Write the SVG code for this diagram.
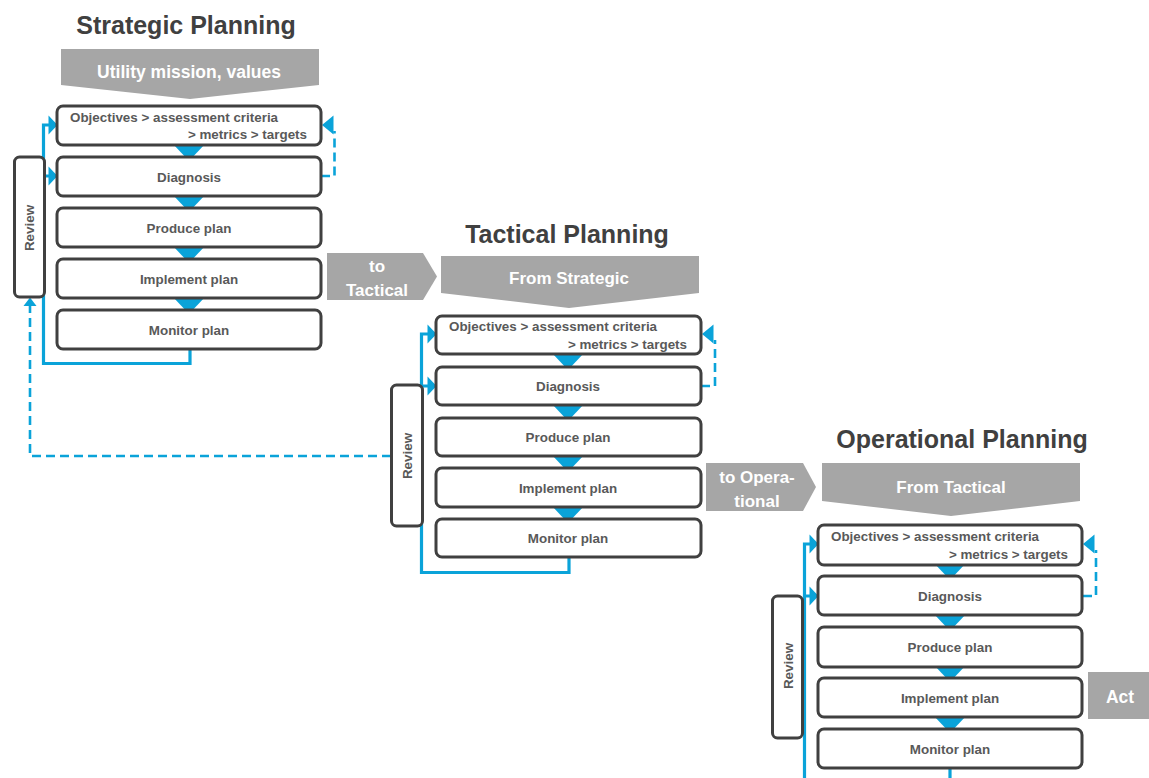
<svg xmlns="http://www.w3.org/2000/svg" width="1149" height="778" viewBox="0 0 1149 778">
<style>
.box{fill:#fff;stroke:#404040;stroke-width:3}
.bt{font-family:"Liberation Sans",Arial,sans-serif;font-weight:bold;font-size:13.4px;fill:#595959}
.mid{text-anchor:middle}
.title{font-family:"Liberation Sans",Arial,sans-serif;font-weight:bold;font-size:25px;fill:#404040;text-anchor:middle}
.gt{font-family:"Liberation Sans",Arial,sans-serif;font-weight:bold;font-size:17.5px;fill:#fff;text-anchor:middle}
.gray{fill:#A6A6A6}
.bl{fill:none;stroke:#0AA3D9;stroke-width:3.2}
.dash{fill:none;stroke:#0AA3D9;stroke-width:2.6;stroke-dasharray:9,5}
.bf{fill:#0AA3D9}
</style>
<rect width="1149" height="778" fill="#fff"/>
<g id="connectors">
  <!-- strategic -->
  <polygon class="bf" points="173,144 205,144 189,161"/>
  <polygon class="bf" points="173,195 205,195 189,212"/>
  <polygon class="bf" points="173,246 205,246 189,263"/>
  <polygon class="bf" points="173,297 205,297 189,314"/>
  <path class="bl" d="M190,349 V363.5 H43.5 V125 H50 M43.5,176 H50"/>
  <polygon class="bf" points="48.5,115.5 57.5,125 48.5,134.5"/>
  <polygon class="bf" points="48.5,166.5 57.5,176 48.5,185.5"/>
  <path class="dash" d="M321,176 H334.5 V131"/>
  <polygon class="bf" points="322,125 333.5,115.5 333.5,134.5"/>
  <path class="dash" d="M391,456 H30 V306"/>
  <polygon class="bf" points="30,297.5 23.5,306 36.5,306"/>
  <!-- tactical -->
  <polygon class="bf" points="552,353 584,353 568,370"/>
  <polygon class="bf" points="552,404 584,404 568,421"/>
  <polygon class="bf" points="552,455 584,455 568,472"/>
  <polygon class="bf" points="552,506 584,506 568,523"/>
  <path class="bl" d="M569,557 V572.5 H421.5 V334 H428 M421.5,386 H428"/>
  <polygon class="bf" points="427.5,324.5 436.5,334 427.5,343.5"/>
  <polygon class="bf" points="427.5,376.5 436.5,386 427.5,395.5"/>
  <path class="dash" d="M701,386 H715 V340"/>
  <polygon class="bf" points="702,334 713.5,324.5 713.5,343.5"/>
  <!-- operational -->
  <polygon class="bf" points="934,563 966,563 950,580"/>
  <polygon class="bf" points="934,614 966,614 950,631"/>
  <polygon class="bf" points="934,665 966,665 950,682"/>
  <polygon class="bf" points="934,716 966,716 950,733"/>
  <path class="bl" d="M804.5,778 V544 H810 M804.5,596 H810 M950,768 V778"/>
  <polygon class="bf" points="809.5,534.5 818.5,544 809.5,553.5"/>
  <polygon class="bf" points="809.5,586.5 818.5,596 809.5,605.5"/>
  <path class="dash" d="M1083,596 H1096 V550"/>
  <polygon class="bf" points="1083,544 1094.5,534.5 1094.5,553.5"/>
</g>
<g id="strategic">
  <text class="title" x="186" y="34">Strategic Planning</text>
  <g id="s-mission">
    <polygon class="gray" points="61,49 319,49 319,85 190,99 61,85"/>
    <text class="gt" x="189" y="78">Utility mission, values</text>
  </g>
  <g id="s-objectives"><rect class="box" x="57" y="106" width="264" height="39" rx="6"/>
    <text class="bt" x="70" y="122">Objectives &gt; assessment criteria</text>
    <text class="bt" x="307" y="139" text-anchor="end">&gt; metrics &gt; targets</text></g>
  <g id="s-diagnosis"><rect class="box" x="57" y="157" width="264" height="39" rx="6"/>
    <text class="bt mid" x="189" y="181.5">Diagnosis</text></g>
  <g id="s-produce"><rect class="box" x="57" y="208" width="264" height="39" rx="6"/>
    <text class="bt mid" x="189" y="232.5">Produce plan</text></g>
  <g id="s-implement"><rect class="box" x="57" y="259" width="264" height="39" rx="6"/>
    <text class="bt mid" x="189" y="283.5">Implement plan</text></g>
  <g id="s-monitor"><rect class="box" x="57" y="310" width="264" height="39" rx="6"/>
    <text class="bt mid" x="189" y="334.5">Monitor plan</text></g>
  <g id="s-review"><rect class="box" x="14.5" y="157" width="30" height="140" rx="5"/>
    <text class="bt mid" transform="translate(29.5,228) rotate(-90)" y="4.6">Review</text></g>
  <g id="to-tactical">
    <polygon class="gray" points="327,253 423,253 437,276.5 423,300 327,300"/>
    <text class="gt" x="377" y="272" style="font-size:17px">to</text>
    <text class="gt" x="377" y="296" style="font-size:17px">Tactical</text>
  </g>
</g>
<g id="tactical">
  <text class="title" x="567" y="243">Tactical Planning</text>
  <g id="t-from">
    <polygon class="gray" points="441,256 699,256 699,293 569,308 441,293"/>
    <text class="gt" x="569" y="284" style="font-size:17px">From Strategic</text>
  </g>
  <g id="t-objectives"><rect class="box" x="436" y="316" width="265" height="38" rx="6"/>
    <text class="bt" x="449" y="331">Objectives &gt; assessment criteria</text>
    <text class="bt" x="687" y="348.5" text-anchor="end">&gt; metrics &gt; targets</text></g>
  <g id="t-diagnosis"><rect class="box" x="436" y="367" width="265" height="38" rx="6"/>
    <text class="bt mid" x="568" y="391">Diagnosis</text></g>
  <g id="t-produce"><rect class="box" x="436" y="418" width="265" height="38" rx="6"/>
    <text class="bt mid" x="568" y="442">Produce plan</text></g>
  <g id="t-implement"><rect class="box" x="436" y="468" width="265" height="39" rx="6"/>
    <text class="bt mid" x="568" y="492.5">Implement plan</text></g>
  <g id="t-monitor"><rect class="box" x="436" y="519" width="265" height="38" rx="6"/>
    <text class="bt mid" x="568" y="543">Monitor plan</text></g>
  <g id="t-review"><rect class="box" x="391.5" y="385" width="31" height="141" rx="5"/>
    <text class="bt mid" transform="translate(407,456) rotate(-90)" y="4.6">Review</text></g>
  <g id="to-operational">
    <polygon class="gray" points="706,463 803,463 816,487 803,511 706,511"/>
    <text class="gt" x="757" y="483" style="font-size:17px">to Opera-</text>
    <text class="gt" x="757" y="507" style="font-size:17px">tional</text>
  </g>
</g>
<g id="operational">
  <text class="title" x="962" y="448">Operational Planning</text>
  <g id="o-from">
    <polygon class="gray" points="822,463 1080,463 1080,501 951,516 822,501"/>
    <text class="gt" x="951" y="493" style="font-size:17px">From Tactical</text>
  </g>
  <g id="o-objectives"><rect class="box" x="818" y="525" width="264" height="40" rx="6"/>
    <text class="bt" x="831" y="541">Objectives &gt; assessment criteria</text>
    <text class="bt" x="1068" y="559" text-anchor="end">&gt; metrics &gt; targets</text></g>
  <g id="o-diagnosis"><rect class="box" x="818" y="576" width="264" height="39" rx="6"/>
    <text class="bt mid" x="950" y="600.5">Diagnosis</text></g>
  <g id="o-produce"><rect class="box" x="818" y="627" width="264" height="40" rx="6"/>
    <text class="bt mid" x="950" y="652">Produce plan</text></g>
  <g id="o-implement"><rect class="box" x="818" y="678" width="264" height="39" rx="6"/>
    <text class="bt mid" x="950" y="703">Implement plan</text></g>
  <g id="o-monitor"><rect class="box" x="818" y="729" width="264" height="39" rx="6"/>
    <text class="bt mid" x="950" y="754">Monitor plan</text></g>
  <g id="o-review"><rect class="box" x="772.5" y="596" width="30" height="142" rx="5"/>
    <text class="bt mid" transform="translate(788,666) rotate(-90)" y="4.6">Review</text></g>
  <g id="act"><rect class="gray" x="1088" y="672" width="61" height="47"/>
    <text class="gt" x="1120" y="703">Act</text></g>
</g>
</svg>
